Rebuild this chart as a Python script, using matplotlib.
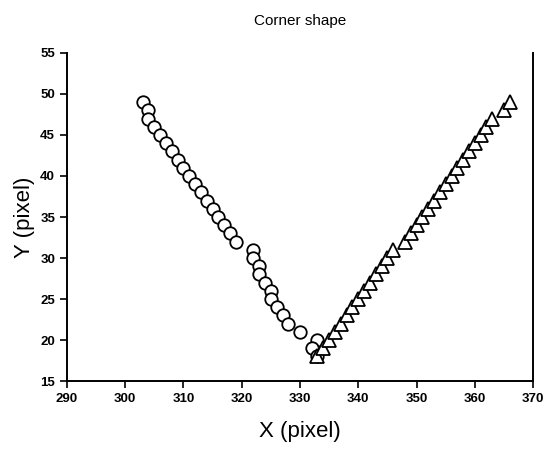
import matplotlib
matplotlib.use('Agg')
from matplotlib import pyplot as plt

# circles: left branch of the corner
circ_x = [303, 304, 304, 305, 306, 307, 308, 309, 310, 311, 312, 313, 314, 315,
          316, 317, 318, 319, 322, 322, 323, 323, 324, 325, 325, 326, 327, 328,
          330, 333, 332, 333]
circ_y = [49, 48, 47, 46, 45, 44, 43, 42, 41, 40, 39, 38, 37, 36,
          35, 34, 33, 32, 31, 30, 29, 28, 27, 26, 25, 24, 23, 22,
          21, 20, 19, 18]

# triangles: right branch
tri_x = [333, 334, 335, 336, 337, 338, 339, 340, 341, 342, 343, 344, 345, 346,
         348, 349, 350, 351, 352, 353, 354, 355, 356, 357, 358, 359, 360, 361,
         362, 363, 365, 366]
tri_y = [18, 19, 20, 21, 22, 23, 24, 25, 26, 27, 28, 29, 30, 31,
         32, 33, 34, 35, 36, 37, 38, 39, 40, 41, 42, 43, 44, 45,
         46, 47, 48, 49]

xticks = list(range(290, 371, 10))
yticks = list(range(15, 56, 5))

plt.rcParams['font.family'] = ['Liberation Sans', 'DejaVu Sans']

fig = plt.figure(figsize=(5.44, 4.49), dpi=100)
ax = fig.add_axes([0.123, 0.1514, 0.857, 0.7306])

ax.plot(circ_x, circ_y, linestyle='none', marker='o', markersize=9,
        markerfacecolor='white', markeredgecolor='black', markeredgewidth=1.3)
ax.plot(tri_x, tri_y, linestyle='none', marker='^', markersize=10.5,
        markerfacecolor='white', markeredgecolor='black', markeredgewidth=1.3)

ax.set_xlim(290, 370)
ax.set_ylim(15, 55)
ax.set_xticks(xticks)
ax.set_yticks(yticks)
ax.tick_params(direction='out', length=5, width=1.2, labelsize=9.5)
for lab in ax.get_xticklabels() + ax.get_yticklabels():
    lab.set_fontweight('bold')

ax.spines['top'].set_visible(False)
for s in ['left', 'bottom', 'right']:
    ax.spines[s].set_linewidth(1.4)

ax.set_xlabel('X (pixel)', fontsize=16, labelpad=12)
ax.set_ylabel('Y (pixel)', fontsize=16, labelpad=4)
ax.set_title('Corner shape', fontsize=11, pad=20)

fig.savefig('out.png', dpi=100)
